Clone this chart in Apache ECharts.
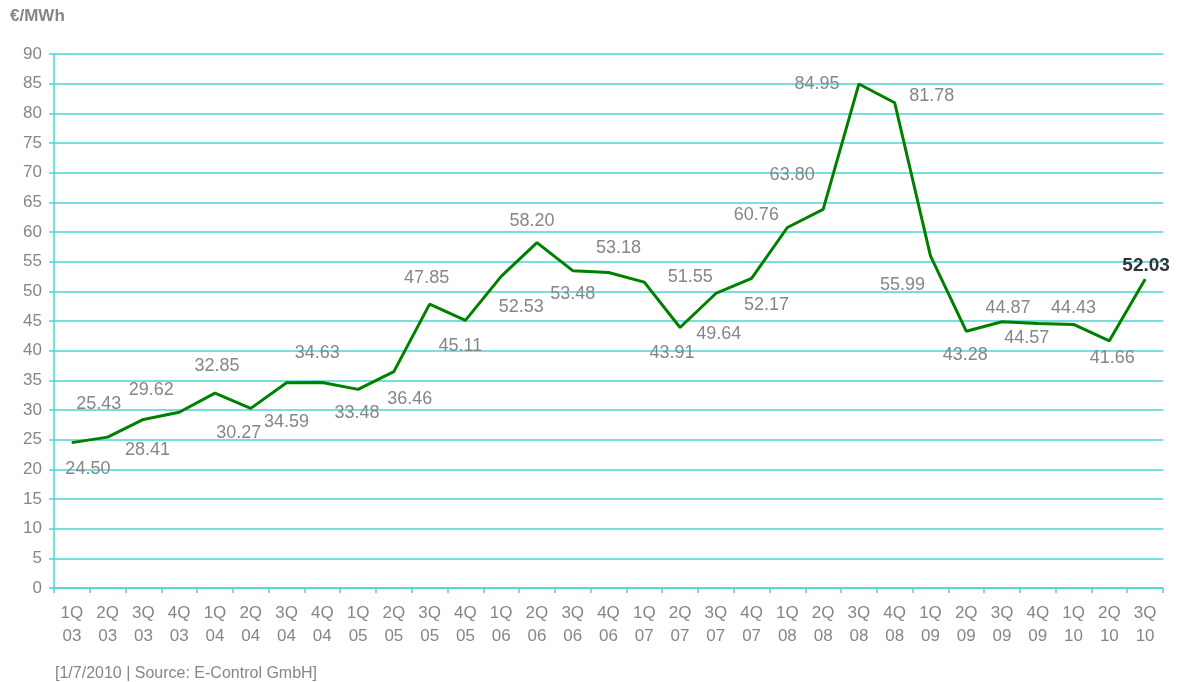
<!DOCTYPE html>
<html>
<head>
<meta charset="utf-8">
<script src="https://cdn.jsdelivr.net/npm/echarts@6/dist/echarts.min.js"></script>
<style>
  html, body { margin: 0; padding: 0; background: #fff; }
  #main { width: 1178px; height: 682px; }
</style>
</head>
<body>
<div id="main"></div>
<script>
// quarters 1Q 03 .. 3Q 10
var quarters = ['1Q\n03','2Q\n03','3Q\n03','4Q\n03','1Q\n04','2Q\n04','3Q\n04','4Q\n04',
  '1Q\n05','2Q\n05','3Q\n05','4Q\n05','1Q\n06','2Q\n06','3Q\n06','4Q\n06',
  '1Q\n07','2Q\n07','3Q\n07','4Q\n07','1Q\n08','2Q\n08','3Q\n08','4Q\n08',
  '1Q\n09','2Q\n09','3Q\n09','4Q\n09','1Q\n10','2Q\n10','3Q\n10'];
var prices = [24.50, 25.43, 28.41, 29.62, 32.85, 30.27, 34.59, 34.63,
  33.48, 36.46, 47.85, 45.11, 52.53, 58.20, 53.48, 53.18,
  51.55, 43.91, 49.64, 52.17, 60.76, 63.80, 84.95, 81.78,
  55.99, 43.28, 44.87, 44.57, 44.43, 41.66, 52.03];

// where each value label sits relative to its point (px)
var labelShift = [[16,26],[-9,-33],[4,31],[-28,-22],[2,-27],[-12,25],[0,39],[-5,-29],
  [-1,24],[16,27],[-3,-26],[-5,26],[20,31],[-5,-22],[0,23],[10,-24],
  [46,-5],[-8,26],[3,41],[15,27],[-31,-12],[-31,-34],[-42,0],[37,-7],
  [-28,29],[-1,24],[6,-14],[-11,14],[0,-16],[3,17],[1,-14]];

var font = "'Liberation Sans', Arial, sans-serif";
var cyan = '#4fd3d3';
var gray = '#868686';

var chart = echarts.init(document.getElementById('main'));

var points = prices.map(function (v, i) {
  var last = i === prices.length - 1;
  return {
    value: v,
    label: {
      offset: labelShift[i],
      fontWeight: last ? 'bold' : 'normal',
      color: last ? '#333333' : gray,
      fontSize: last ? 19 : 18
    }
  };
});

chart.setOption({
  animation: false,
  textStyle: { fontFamily: font },
  graphic: [
    { type: 'text', left: 10, top: 8, style: { text: '€/MWh', fill: gray, font: 'bold 17px ' + font } },
    { type: 'text', left: 55, top: 666, style: { text: '[1/7/2010 | Source: E-Control GmbH]', fill: gray, font: '16px ' + font } }
  ],
  grid: { left: 54, right: 15, top: 54, bottom: 94, containLabel: false },
  xAxis: {
    type: 'category',
    data: quarters,
    boundaryGap: true,
    axisLine: { lineStyle: { color: cyan, width: 1.5 } },
    axisTick: { show: true, length: 5, lineStyle: { color: cyan, width: 1.5 } },
    axisLabel: { color: gray, fontSize: 17, lineHeight: 23, margin: 14, interval: 0, fontFamily: font }
  },
  yAxis: {
    type: 'value',
    min: 0,
    max: 90,
    interval: 5,
    axisLine: { show: true, lineStyle: { color: cyan, width: 1.5 } },
    axisTick: { show: true, length: 5, lineStyle: { color: cyan, width: 1.5 } },
    axisLabel: { color: gray, fontSize: 17, margin: 12, fontFamily: font },
    splitLine: { lineStyle: { color: cyan, width: 1.5 } }
  },
  series: [{
    type: 'line',
    data: points,
    symbol: 'circle',
    symbolSize: 1,
    showSymbol: true,
    itemStyle: { color: '#008000' },
    lineStyle: { color: '#008000', width: 3 },
    label: {
      show: true,
      position: 'inside',
      align: 'center',
      verticalAlign: 'middle',
      fontFamily: font,
      formatter: function (p) { return p.value.toFixed(2); }
    }
  }]
});
</script>
</body>
</html>
